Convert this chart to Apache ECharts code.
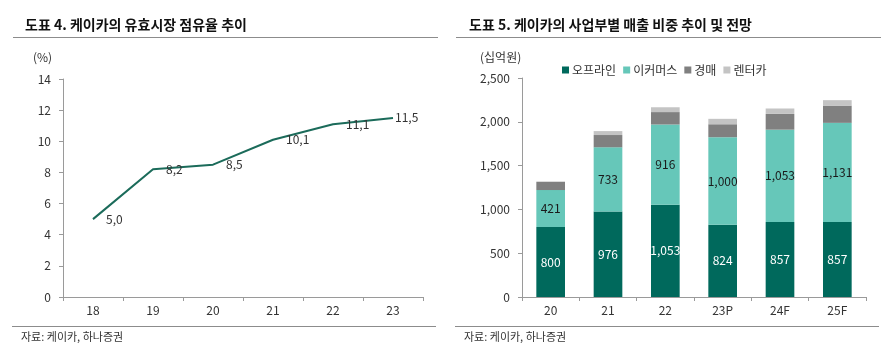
<!DOCTYPE html>
<html>
<head>
<meta charset="utf-8">
<script src="https://cdn.jsdelivr.net/npm/echarts@6/dist/echarts.min.js"></script>
<style>
  html, body { margin: 0; padding: 0; background: #fff; }
  #chart { width: 888px; height: 353px; }
</style>
</head>
<body>
<div id="chart"></div>
<script>
// 도표 4 - 유효시장 점유율 (%)
const shareYears = ['18', '19', '20', '21', '22', '23'];
const shareValues = [5.0, 8.2, 8.5, 10.1, 11.1, 11.5];

// 도표 5 - 사업부별 매출 (십억원)
const salesYears = ['20', '21', '22', '23P', '24F', '25F'];
const offline = [800, 976, 1053, 824, 857, 857];
const ecommerce = [421, 733, 916, 1000, 1053, 1131];
const auction = [95, 140, 142, 148, 180, 197];
const rental = [0, 45, 55, 62, 62, 62];
const salesNames = ['오프라인', '이커머스', '경매', '렌터카'];

const FONT = '"Noto Sans CJK KR", "Noto Sans", sans-serif';
const AXIS_COLOR = '#9a9a9a';
const TEXT_COLOR = '#333';
const colors = ['#00695c', '#66c7b9', '#808080', '#c4c4c4'];

const fmt = v => Number(v).toLocaleString('en-US');

function axisBase() {
  return {
    axisLine: { show: true, lineStyle: { color: AXIS_COLOR, width: 1 } },
    axisTick: { show: true, length: 4, lineStyle: { color: AXIS_COLOR } },
    splitLine: { show: false },
    axisLabel: { color: TEXT_COLOR, fontSize: 12, fontFamily: FONT }
  };
}

const chart = echarts.init(document.getElementById('chart'));

const stackLabel = (color) => ({
  show: true,
  position: 'inside',
  color: color,
  fontSize: 12,
  fontFamily: FONT,
  formatter: p => fmt(p.value)
});

// last point label sits right at the line end
const lineData = shareValues.map((v, i) =>
  i === shareValues.length - 1 ? { value: v, label: { distance: 2 } } : v);

const options = {
  backgroundColor: '#fff',
  animation: false,
  textStyle: { fontFamily: FONT },
  title: [
    {
      text: '도표 4. 케이카의 유효시장 점유율 추이',
      left: 20, top: 13,
      textStyle: { fontSize: 14, fontWeight: 'bold', color: '#111', fontFamily: FONT }
    },
    {
      text: '도표 5. 케이카의 사업부별 매출 비중 추이 및 전망',
      left: 464, top: 13,
      textStyle: { fontSize: 14, fontWeight: 'bold', color: '#111', fontFamily: FONT }
    }
  ],
  legend: {
    data: salesNames,
    left: 557, top: 59,
    icon: 'rect',
    itemWidth: 7, itemHeight: 7,
    itemGap: 7,
    textStyle: { fontSize: 12, color: TEXT_COLOR, fontFamily: FONT, padding: [0, 0, 0, -2] }
  },
  grid: [
    { left: 63, top: 79, width: 360, height: 218 },
    { left: 522, top: 78, width: 344, height: 219 }
  ],
  xAxis: [
    Object.assign(axisBase(), {
      type: 'category', gridIndex: 0, data: shareYears, boundaryGap: true,
      axisLabel: { color: TEXT_COLOR, fontSize: 12, fontFamily: FONT, margin: 7 }
    }),
    Object.assign(axisBase(), {
      type: 'category', gridIndex: 1, data: salesYears, boundaryGap: true,
      axisLabel: { color: TEXT_COLOR, fontSize: 12, fontFamily: FONT, margin: 7 }
    })
  ],
  yAxis: [
    Object.assign(axisBase(), {
      type: 'value', gridIndex: 0, min: 0, max: 14, interval: 2,
      axisLabel: { color: TEXT_COLOR, fontSize: 12, fontFamily: FONT, margin: 12 }
    }),
    Object.assign(axisBase(), {
      type: 'value', gridIndex: 1, min: 0, max: 2500, interval: 500,
      axisLabel: { color: TEXT_COLOR, fontSize: 12, fontFamily: FONT, margin: 12, formatter: fmt }
    })
  ],
  series: [
    {
      name: '점유율', type: 'line', xAxisIndex: 0, yAxisIndex: 0,
      data: lineData,
      symbol: 'circle',
      symbolSize: 0.1,
      showSymbol: true,
      itemStyle: { color: '#1b6b5a' },
      lineStyle: { color: '#1b6b5a', width: 2 },
      label: {
        show: true, position: 'right', distance: 13,
        color: TEXT_COLOR, fontSize: 12, fontFamily: FONT,
        formatter: p => p.value.toFixed(1).replace('.', ',')
      }
    },
    {
      name: salesNames[0], type: 'bar', xAxisIndex: 1, yAxisIndex: 1, stack: 'sales',
      barWidth: '50%', data: offline, itemStyle: { color: colors[0] },
      label: stackLabel('#fff')
    },
    {
      name: salesNames[1], type: 'bar', xAxisIndex: 1, yAxisIndex: 1, stack: 'sales',
      barWidth: '50%', data: ecommerce, itemStyle: { color: colors[1] },
      label: stackLabel('#1a1a1a')
    },
    {
      name: salesNames[2], type: 'bar', xAxisIndex: 1, yAxisIndex: 1, stack: 'sales',
      barWidth: '50%', data: auction, itemStyle: { color: colors[2] }
    },
    {
      name: salesNames[3], type: 'bar', xAxisIndex: 1, yAxisIndex: 1, stack: 'sales',
      barWidth: '50%', data: rental, itemStyle: { color: colors[3] }
    }
  ],
  graphic: [
    // title rules
    { type: 'line', shape: { x1: 13, y1: 37.5, x2: 438, y2: 37.5 }, style: { stroke: '#8c8c8c', lineWidth: 1 } },
    { type: 'line', shape: { x1: 456, y1: 37.5, x2: 881, y2: 37.5 }, style: { stroke: '#8c8c8c', lineWidth: 1 } },
    // footer rules
    { type: 'line', shape: { x1: 12, y1: 326.5, x2: 436, y2: 326.5 }, style: { stroke: '#8c8c8c', lineWidth: 1 } },
    { type: 'line', shape: { x1: 455, y1: 326.5, x2: 879, y2: 326.5 }, style: { stroke: '#8c8c8c', lineWidth: 1 } },
    // unit labels
    { type: 'text', left: 33, top: 51, style: { text: '(%)', fontSize: 12, fill: TEXT_COLOR, fontFamily: FONT } },
    { type: 'text', left: 480, top: 51, style: { text: '(십억원)', fontSize: 12, fill: TEXT_COLOR, fontFamily: FONT } },
    // sources
    { type: 'text', left: 21, top: 331, style: { text: '자료: 케이카, 하나증권', fontSize: 11, fill: TEXT_COLOR, fontFamily: FONT } },
    { type: 'text', left: 464, top: 331, style: { text: '자료: 케이카, 하나증권', fontSize: 11, fill: TEXT_COLOR, fontFamily: FONT } }
  ]
};

chart.setOption(options);
</script>
</body>
</html>
